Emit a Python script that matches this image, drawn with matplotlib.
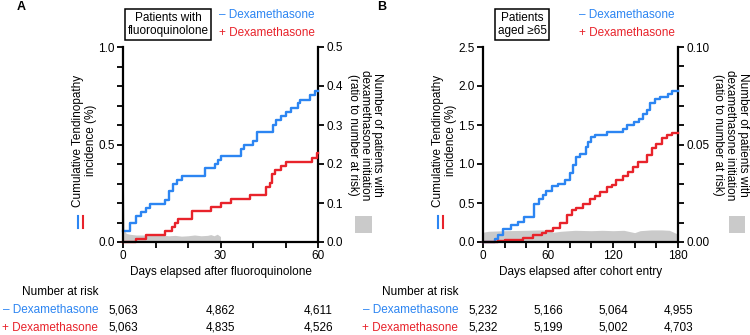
import matplotlib
matplotlib.use('Agg')
import matplotlib.pyplot as plt
from matplotlib.patches import Rectangle
from matplotlib.ticker import MultipleLocator, FormatStrFormatter

plt.rcParams['font.family'] = ['Liberation Sans', 'DejaVu Sans']
plt.rcParams['font.size'] = 8.5

BLUE = '#2c85f2'
RED = '#e8232b'
GRAY = '#cacaca'

# --- Panel A: patients with fluoroquinolone (days 0-60) ---
a_blue_days = [0, 2, 4.1, 5.4, 7.2, 8.2, 13, 14, 15.4, 16.7, 18.3, 25.1, 28.2, 29.2, 30,
               36.2, 37.1, 40, 41.3, 46, 47.2, 48.5, 50.3, 51.6, 53.8, 54.5, 57.4, 59, 60]
a_blue_vals = [0.058, 0.096, 0.135, 0.155, 0.176, 0.195, 0.215, 0.263, 0.297, 0.317, 0.338,
               0.377, 0.398, 0.42, 0.439, 0.478, 0.5, 0.519, 0.563, 0.602, 0.625, 0.645,
               0.667, 0.688, 0.713, 0.73, 0.752, 0.775, 0.775]
a_red_days = [0, 4.1, 7.2, 13, 15, 16, 16.9, 21.2, 27.2, 30, 33.1, 39, 44.1, 45.1, 45.8,
              46.9, 48.7, 50, 58.2, 59.8, 60]
a_red_vals = [0.0, 0.017, 0.038, 0.058, 0.078, 0.099, 0.116, 0.157, 0.177, 0.198, 0.218,
              0.241, 0.283, 0.304, 0.348, 0.369, 0.389, 0.411, 0.433, 0.454, 0.454]
a_gray_days = [0, 0.4, 1, 2, 4, 6, 8, 10, 12, 14, 16, 18, 20, 22, 24, 26, 27, 28, 29, 30, 30.01]
a_gray_vals = [0.20, 0.03, 0.022, 0.02, 0.018, 0.018, 0.017, 0.019, 0.018, 0.016, 0.017,
               0.015, 0.016, 0.018, 0.016, 0.017, 0.019, 0.016, 0.02, 0.014, 0.0]
a_risk_days = [0, 30, 60]
a_risk_minus = ['5,063', '4,862', '4,611']
a_risk_plus = ['5,063', '4,835', '4,526']

# --- Panel B: patients aged >=65 (days 0-180) ---
b_blue_days = [0, 10.8, 14, 18.5, 26.2, 32.4, 38, 47, 52, 55.5, 58.6, 64, 69, 75.5, 80, 83,
               86, 89.4, 95, 97, 100, 103, 114, 129.5, 132.5, 139, 144, 148, 151, 154, 159,
               163, 171, 174, 180]
b_blue_vals = [0.0, 0.04, 0.09, 0.17, 0.22, 0.26, 0.32, 0.49, 0.55, 0.60, 0.65, 0.72, 0.74,
               0.79, 0.88, 0.99, 1.09, 1.13, 1.22, 1.28, 1.35, 1.37, 1.41, 1.45, 1.50, 1.54,
               1.58, 1.64, 1.69, 1.78, 1.83, 1.86, 1.90, 1.94, 1.94]
b_red_days = [0, 14, 20, 27.7, 37, 46, 54, 58.6, 64.7, 71, 77.7, 81.7, 86, 92.5, 98.6, 103,
              108, 114, 119, 123, 129.5, 134, 138, 143, 151, 155.6, 160, 165, 170, 174, 180]
b_red_vals = [0.0, 0.01, 0.02, 0.03, 0.055, 0.09, 0.11, 0.145, 0.175, 0.24, 0.35, 0.41, 0.44,
              0.49, 0.55, 0.59, 0.64, 0.71, 0.73, 0.79, 0.84, 0.90, 0.96, 1.02, 1.11, 1.20,
              1.26, 1.33, 1.37, 1.40, 1.40]
b_gray_days = [0, 5, 20, 40, 55, 60, 65, 72, 85, 100, 110, 120, 130, 140, 145, 155, 165, 172,
               178, 180]
b_gray_vals = [0.0050, 0.0055, 0.0058, 0.0060, 0.0062, 0.0060, 0.0050, 0.0055, 0.0060, 0.0058,
               0.0060, 0.0058, 0.0060, 0.0048, 0.0058, 0.0062, 0.0062, 0.0060, 0.0045, 0.0040]
b_risk_days = [0, 60, 120, 180]
b_risk_minus = ['5,232', '5,166', '5,064', '4,955']
b_risk_plus = ['5,232', '5,199', '5,002', '4,703']

W, H = 750, 335
fig = plt.figure(figsize=(W / 100, H / 100), dpi=100)


def px_axes(left, top, width, height):
    return fig.add_axes([left / W, 1 - (top + height) / H, width / W, height / H])


def style_axis(ax):
    ax.tick_params(which='both', direction='out', length=4.5, width=1.3, pad=1.5,
                   labelsize=8.5, colors='black')
    for s in ('left', 'bottom', 'right'):
        ax.spines[s].set_linewidth(1.6)
    ax.spines['top'].set_visible(False)


def panel(left, letter, box_text, box_x, blue, red, gray, xmax, xmaj, xmin,
          ymax, ymaj, ymin, rmax, rmaj, rmin, rfmt, xlabel, risk, rlab_x, sq_x):
    ax = px_axes(left, 47, 195, 195)
    ax2 = ax.twinx()
    ax.set_zorder(ax2.get_zorder() + 1)
    ax.patch.set_visible(False)

    ax2.fill_between(gray[0], 0, gray[1], color=GRAY, linewidth=0)
    ax.step(blue[0], blue[1], where='post', color=BLUE, lw=1.7, clip_on=False)
    ax.step(red[0], red[1], where='post', color=RED, lw=1.7, clip_on=False)

    ax.set_xlim(0, xmax)
    ax.set_ylim(0, ymax)
    ax2.set_ylim(0, rmax)
    ax.xaxis.set_major_locator(MultipleLocator(xmaj))
    ax.xaxis.set_minor_locator(MultipleLocator(xmin))
    ax.yaxis.set_major_locator(MultipleLocator(ymaj))
    if ymin:
        ax.yaxis.set_minor_locator(MultipleLocator(ymin))
    else:
        ax.yaxis.set_minor_locator(plt.NullLocator())
    ax.yaxis.set_major_formatter(FormatStrFormatter('%.1f'))
    ax2.yaxis.set_major_locator(MultipleLocator(rmaj))
    ax2.yaxis.set_minor_locator(MultipleLocator(rmin))
    ax2.yaxis.set_major_formatter(FormatStrFormatter(rfmt))
    style_axis(ax)
    style_axis(ax2)
    ax2.spines['left'].set_visible(False)
    ax2.spines['bottom'].set_visible(False)
    ax.spines['right'].set_visible(False)

    # axis titles
    ax.text(-0.197, 0.52, 'Cumulative Tendinopathy\nincidence (%)', transform=ax.transAxes,
            rotation=90, ha='center', va='center', linespacing=1.15)
    ax.plot([-0.231, -0.231], [0.072, 0.133], transform=ax.transAxes, color=BLUE,
            lw=1.5, clip_on=False)
    ax.plot([-0.203, -0.203], [0.072, 0.133], transform=ax.transAxes, color=RED,
            lw=1.5, clip_on=False)
    ax.text(rlab_x, 0.55, 'Number of patients with\ndexamethasone initiation\n'
            '(ratio to number at risk)', transform=ax.transAxes, rotation=270,
            ha='center', va='center', linespacing=1.05)
    ax.add_patch(Rectangle((sq_x, 0.046), 0.085, 0.085, transform=ax.transAxes,
                           color=GRAY, clip_on=False, lw=0))
    ax.text(0.5, -0.154, xlabel, transform=ax.transAxes, ha='center', va='center')

    # header: box and legend
    ax.text(box_x, 1.115, box_text, transform=ax.transAxes, ha='center', va='center',
            linespacing=1.1,
            bbox=dict(boxstyle='square,pad=0.25', fc='white', ec='black', lw=1.1))
    ax.text(0.49, 1.164, '– Dexamethasone', transform=ax.transAxes, color=BLUE,
            ha='left', va='center')
    ax.text(0.49, 1.072, '+ Dexamethasone', transform=ax.transAxes, color=RED,
            ha='left', va='center')
    fig.text((left - 106) / W, 1 - 7 / H, letter, fontweight='bold', fontsize=9,
             ha='left', va='center')

    # number at risk table
    tr = ax.get_xaxis_transform()
    ax.text(-0.128, -0.256, 'Number at risk', transform=ax.transAxes, ha='right',
            va='center')
    ax.text(-0.128, -0.349, '– Dexamethasone', transform=ax.transAxes, ha='right',
            va='center', color=BLUE)
    ax.text(-0.128, -0.441, '+ Dexamethasone', transform=ax.transAxes, ha='right',
            va='center', color=RED)
    for d, m, p in zip(risk[0], risk[1], risk[2]):
        ax.text(d, -0.349, m, transform=tr, ha='center', va='center')
        ax.text(d, -0.441, p, transform=tr, ha='center', va='center')
    return ax


panel(123, 'A', 'Patients with\nfluoroquinolone', 0.231,
      (a_blue_days, a_blue_vals), (a_red_days, a_red_vals), (a_gray_days, a_gray_vals),
      60, 30, 10, 1.0, 0.5, 0.1, 0.5, 0.1, 0.1, '%.1f',
      'Days elapsed after fluoroquinolone',
      (a_risk_days, a_risk_minus, a_risk_plus), 1.241, 1.19)

panel(483, 'B', 'Patients\naged ≥65', 0.2,
      (b_blue_days, b_blue_vals), (b_red_days, b_red_vals), (b_gray_days, b_gray_vals),
      180, 60, 20, 2.5, 0.5, None, 0.10, 0.05, 0.01, '%.2f',
      'Days elapsed after cohort entry',
      (b_risk_days, b_risk_minus, b_risk_plus), 1.267, 1.26)

fig.savefig('out.png', dpi=100)
